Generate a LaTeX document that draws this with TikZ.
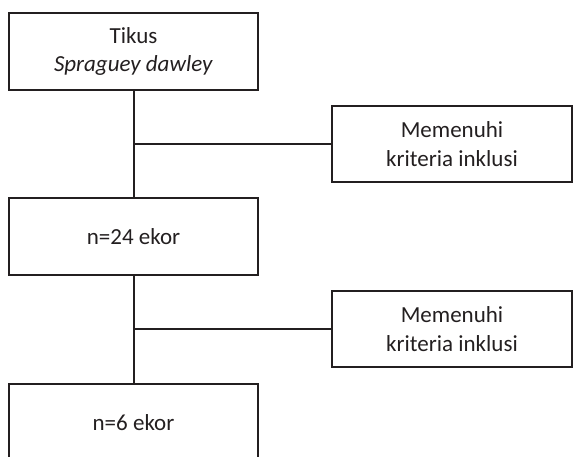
\documentclass[tikz,border=0pt]{standalone}
\usepackage{fontspec}
\setmainfont{Carlito}
\usetikzlibrary{positioning}
\definecolor{ink}{RGB}{35,31,32}
\tikzset{
  box/.style={draw=ink,rectangle,line width=2pt,minimum width=249pt,minimum height=77pt,align=center,inner sep=0pt,outer sep=0pt,text=ink,font=\fontsize{23}{28.5}\selectfont},
  sidebox/.style={box,minimum width=240pt,minimum height=76pt},
  connect/.style={draw=ink,line width=2pt}
}

\begin{document}
\begin{tikzpicture}[x=1pt,y=1pt]
\useasboundingbox (0,0) rectangle (573,456);
\clip (0,0) rectangle (573,456);

\node[box] (tikus) at (133.5,404.5) {Tikus\\\textit{Spraguey dawley}};
\node[box,below=108pt of tikus] (n24) {n=24 ekor};
\node[box,below=109pt of n24] (n6) {n=6 ekor};

\node[sidebox] (kr1) at (452,312) {Memenuhi\\kriteria inklusi};
\node[sidebox] (kr2) at (452,127) {Memenuhi\\kriteria inklusi};

\draw[connect] (tikus) -- (n24);
\draw[connect] (kr1.west) -- (kr1.west -| tikus.south);
\draw[connect] (n24) -- (n6);
\draw[connect] (kr2.west) -- (kr2.west -| n24.south);

\end{tikzpicture}
\end{document}
